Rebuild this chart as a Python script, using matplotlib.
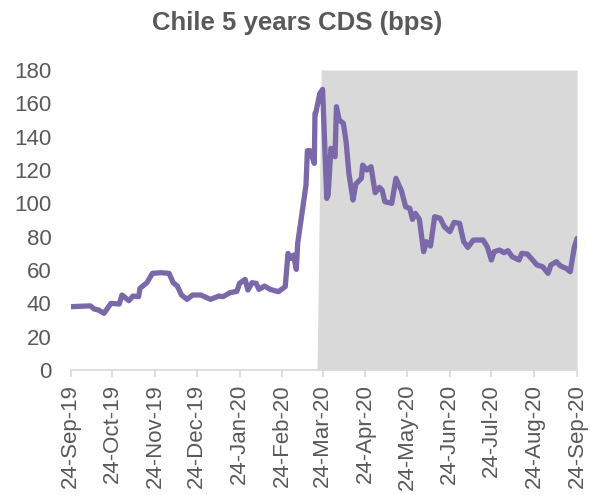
import pandas as pd
import matplotlib
matplotlib.use("Agg")
import matplotlib.pyplot as plt

plt.rcParams["font.family"] = ["Liberation Sans", "DejaVu Sans"]

# days since 24-Sep-19 and CDS level (bps)
start_date = "2019-09-24"
cds_days = [0, 14, 17, 20, 24, 29, 35, 37, 42, 45, 49, 50, 55, 59, 65, 71, 74, 77, 80,
            84, 88, 94, 101, 107, 110, 115, 120, 122, 126, 128, 131, 134, 136, 140, 144,
            150, 155, 157, 159, 161, 163, 164, 170, 171, 173, 176, 176.5, 177, 180, 182,
            185, 186, 188, 191, 192, 194, 197, 199, 201, 204, 206, 210, 211, 214, 217,
            220, 223, 225, 227, 232, 235, 239, 242, 245, 247, 249, 252, 255, 257, 260,
            263, 267, 270, 274, 277, 281, 284, 287, 291, 298, 301, 304, 306, 310, 313,
            316, 319, 324, 326, 330, 337, 341, 345, 347, 351, 354, 358, 361, 364, 366]
cds_values = [38, 38.5, 36.6, 36, 34, 40, 39.6, 45, 41.6, 44.4, 44, 49, 52.4, 58, 58.4,
              58, 52.4, 50.4, 45, 42.4, 45, 45, 42.4, 44.4, 44, 46.4, 47.2, 52, 54.4, 48,
              52.4, 52, 48.4, 50.4, 48.4, 47, 50, 70, 67, 69, 60.4, 76, 111, 131.6, 131.6,
              124, 154, 154, 166, 168.4, 103, 105, 133, 128, 158, 150, 148, 137, 118, 102,
              111.6, 115, 123, 120, 122, 106.4, 109.6, 108, 101, 100, 115, 107.6, 98, 97,
              90.4, 94, 90.4, 71, 77, 74.4, 92, 91, 86, 83, 88.6, 88, 77, 73.6, 78, 78, 74,
              66, 71, 72, 70.4, 71.6, 68, 66, 70, 69.6, 63, 62, 58, 63, 65, 62.4, 61, 59,
              74, 79]

# shaded period (area series: 0 then 180)
shade_dates = ["2020-03-20", "2020-03-23", "2020-09-24"]
shade_values = [0, 180, 180]

tick_labels = ["24-Sep-19", "24-Oct-19", "24-Nov-19", "24-Dec-19", "24-Jan-20",
               "24-Feb-20", "24-Mar-20", "24-Apr-20", "24-May-20", "24-Jun-20",
               "24-Jul-20", "24-Aug-20", "24-Sep-20"]

dates = pd.Timestamp(start_date) + pd.to_timedelta(cds_days, unit="D")
sdates = pd.to_datetime(shade_dates)
ticks = pd.to_datetime(tick_labels, format="%d-%b-%y")

fig = plt.figure(figsize=(5.95, 4.95), dpi=100)
ax = fig.add_axes([0.119, 0.2525, 0.851, 0.606])

ax.fill_between(sdates, 0, shade_values, color="#D9D9D9", linewidth=0, zorder=1)
ax.plot(dates, cds_values, color="#7A68A9", linewidth=3.8, solid_joinstyle="round",
        solid_capstyle="round", zorder=3)

ax.set_ylim(0, 180)
ax.set_yticks(range(0, 181, 20))
ax.set_xlim(ticks[0], ticks[-1])
ax.set_xticks(ticks)
ax.set_xticklabels(tick_labels, rotation=90)

for side in ["top", "right", "left"]:
    ax.spines[side].set_visible(False)
ax.spines["bottom"].set_color("#D9D9D9")
ax.spines["bottom"].set_linewidth(1.2)
ax.tick_params(axis="x", colors="#D9D9D9", length=5, width=1.2, labelcolor="#595959",
               labelsize=16, pad=5)
ax.tick_params(axis="y", length=0, labelcolor="#595959", labelsize=16, pad=14)

fig.suptitle("Chile 5 years CDS (bps)", x=0.5, y=0.977, fontsize=18.5,
             fontweight="bold", color="#595959")

fig.savefig("out.png", dpi=100)
